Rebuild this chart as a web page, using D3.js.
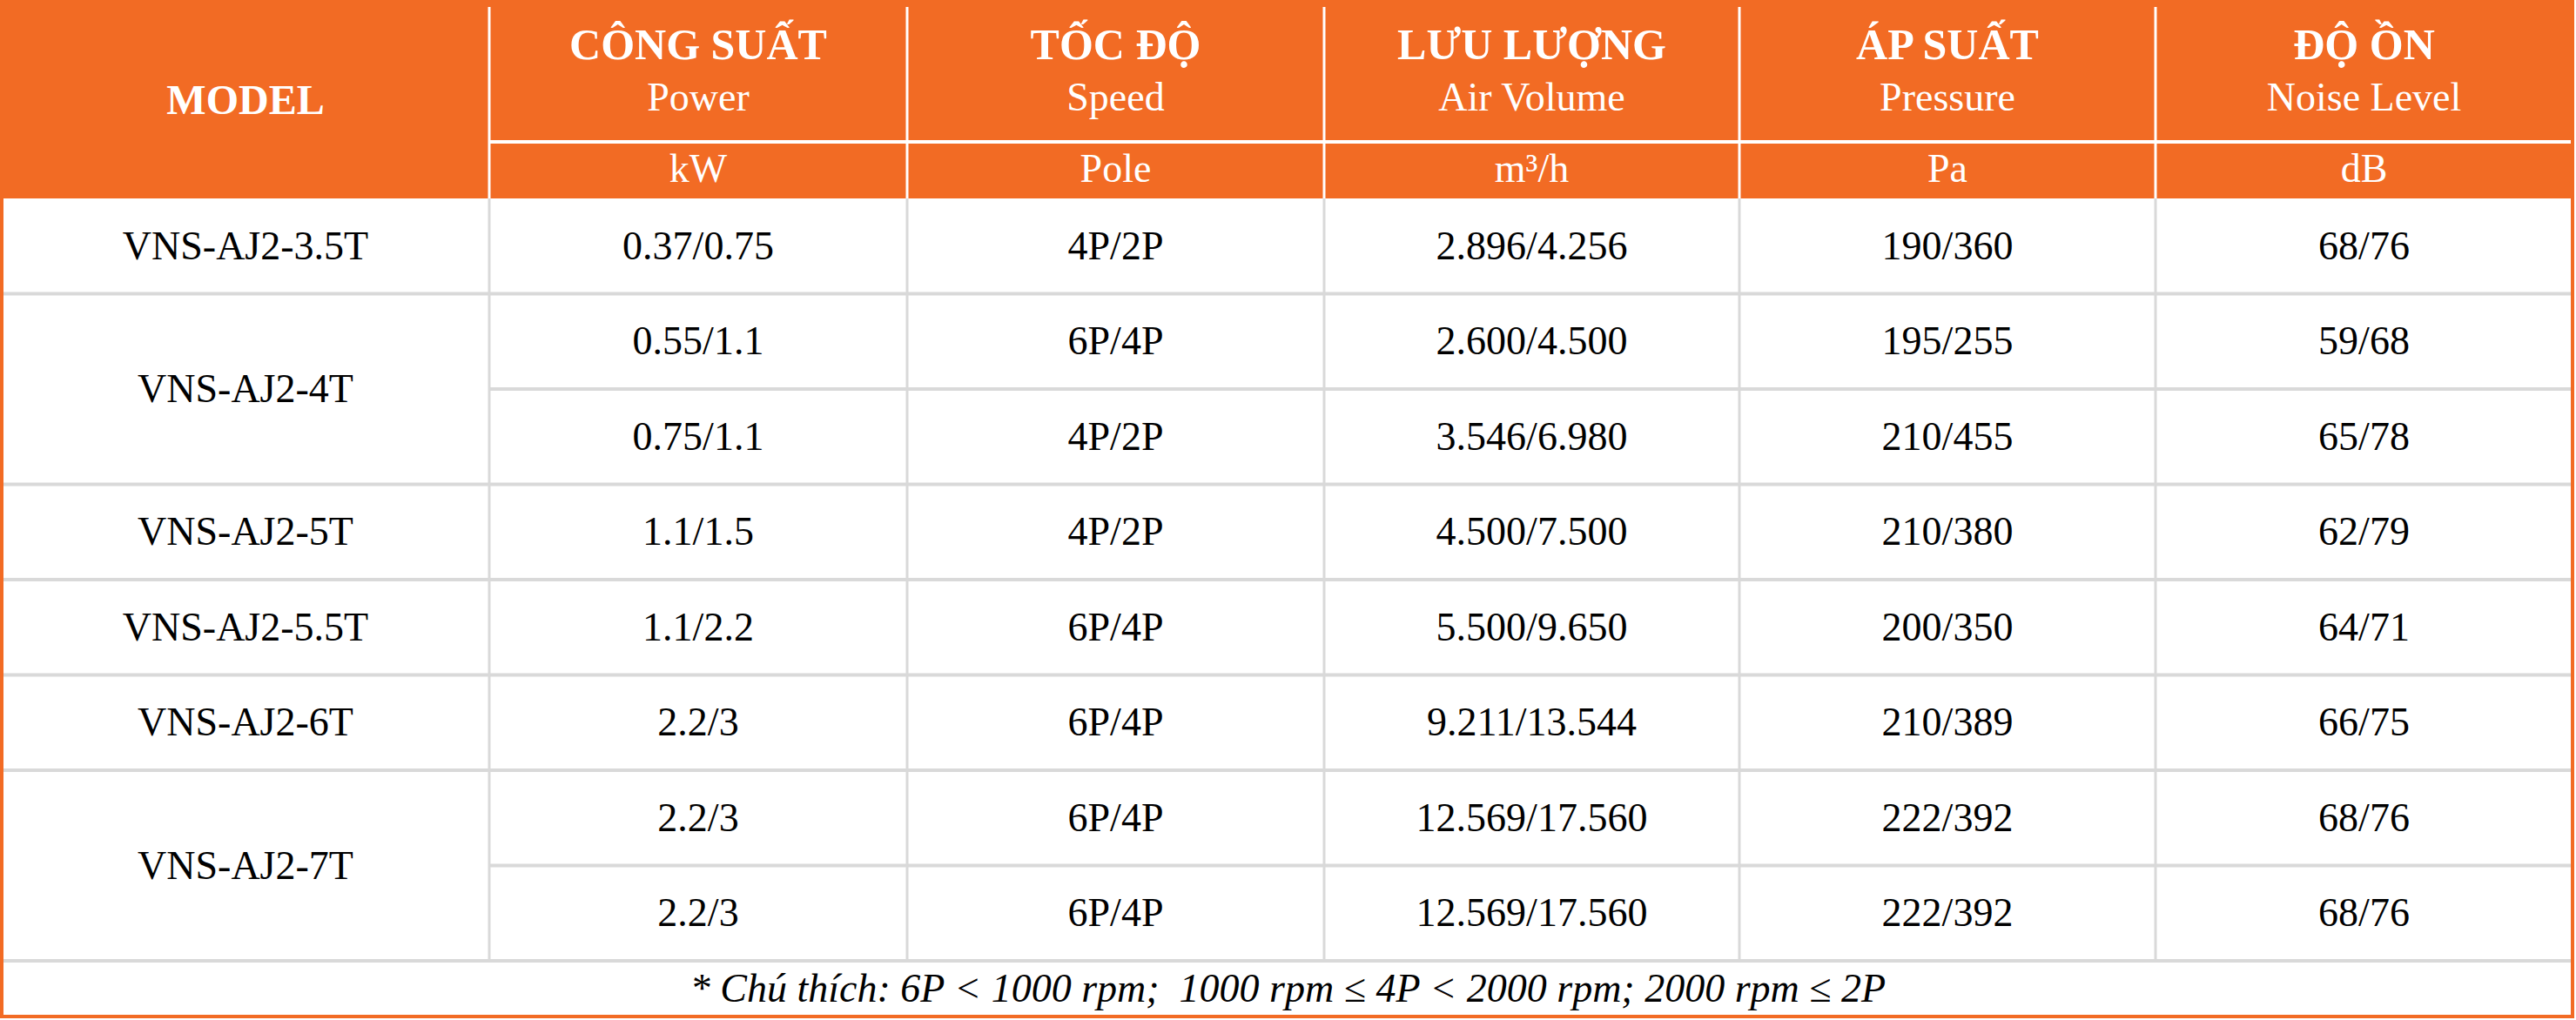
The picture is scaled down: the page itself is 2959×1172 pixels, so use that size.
<!DOCTYPE html>
<html><head><meta charset="utf-8">
<script src="https://cdn.jsdelivr.net/npm/d3@7"></script>
<style>body{margin:0;background:#fff}svg{display:block}text{white-space:pre}</style>
</head><body>
<script>
const headTop = ["MODEL","CÔNG SUẤT","TỐC ĐỘ","LƯU LƯỢNG","ÁP SUẤT","ĐỘ ỒN"];
const headEn = ["","Power","Speed","Air Volume","Pressure","Noise Level"];
const units = ["","kW","Pole","m³/h","Pa","dB"];
const models = [["VNS-AJ2-3.5T",1],["VNS-AJ2-4T",2],["VNS-AJ2-5T",1],["VNS-AJ2-5.5T",1],["VNS-AJ2-6T",1],["VNS-AJ2-7T",2]];
const power = ["0.37/0.75","0.55/1.1","0.75/1.1","1.1/1.5","1.1/2.2","2.2/3","2.2/3","2.2/3"];
const speed = ["4P/2P","6P/4P","4P/2P","4P/2P","6P/4P","6P/4P","6P/4P","6P/4P"];
const airVolume = ["2.896/4.256","2.600/4.500","3.546/6.980","4.500/7.500","5.500/9.650","9.211/13.544","12.569/17.560","12.569/17.560"];
const pressure = ["190/360","195/255","210/455","210/380","200/350","210/389","222/392","222/392"];
const noise = ["68/76","59/68","65/78","62/79","64/71","66/75","68/76","68/76"];
const note = "* Chú thích: 6P < 1000 rpm;  1000 rpm ≤ 4P < 2000 rpm; 2000 rpm ≤ 2P";

const W=2959,H=1172, OR="#F26B24", GR="#d9d9d9", F="'Liberation Serif','Times New Roman',serif";
const svg=d3.select("body").append("svg").attr("width",W).attr("height",H);
const colEdges=[2,562,1042,1521,1998,2476,2955];
const x=i=>colEdges[i];
const hTop=2,hMid=163,hBot=228,rowsBot=1104,noteBot=1168;
const y=d3.scaleLinear().domain([0,8]).range([hBot,rowsBot]);
const cols=[power,speed,airVolume,pressure,noise];
const FS=46;

svg.append("rect").attr("x",x(0)).attr("y",hTop).attr("width",x(6)-x(0)).attr("height",hBot-hTop).attr("fill",OR);
for(let i=1;i<6;i++) svg.append("line").attr("x1",x(i)).attr("x2",x(i)).attr("y1",8).attr("y2",hBot).attr("stroke","#fff").attr("stroke-width",3);
svg.append("line").attr("x1",x(1)).attr("x2",x(6)).attr("y1",hMid).attr("y2",hMid).attr("stroke","#fff").attr("stroke-width",4);
headTop.forEach((t,i)=>{
  const cx=(x(i)+x(i+1))/2;
  if(i===0){svg.append("text").attr("x",cx).attr("y",(hTop+hBot)/2+16).attr("text-anchor","middle").attr("font-family",F).attr("font-weight","bold").attr("font-size",48).attr("fill","#fff").text(t);return;}
  svg.append("text").attr("x",cx).attr("y",68).attr("text-anchor","middle").attr("font-family",F).attr("font-weight","bold").attr("font-size",50).attr("fill","#fff").text(t);
  svg.append("text").attr("x",cx).attr("y",127).attr("text-anchor","middle").attr("font-family",F).attr("font-size",FS).attr("fill","#fff").text(headEn[i]);
  svg.append("text").attr("x",cx).attr("y",209).attr("text-anchor","middle").attr("font-family",F).attr("font-size",FS).attr("fill","#fff").text(units[i]);
});
for(let i=1;i<6;i++) svg.append("line").attr("x1",x(i)).attr("x2",x(i)).attr("y1",hBot).attr("y2",rowsBot).attr("stroke",GR).attr("stroke-width",3);
let r=0; const modelStarts=[];
models.forEach(([m,span])=>{modelStarts.push(r); r+=span;});
for(let k=1;k<=8;k++){
  const fullLine = k===8 || modelStarts.includes(k);
  svg.append("line").attr("x1",fullLine?x(0):x(1)).attr("x2",x(6)).attr("y1",y(k)).attr("y2",y(k)).attr("stroke",GR).attr("stroke-width",4);
}
models.forEach(([m,span],j)=>{
  const s=modelStarts[j];
  svg.append("text").attr("x",(x(0)+x(1))/2).attr("y",(y(s)+y(s+span))/2+15).attr("text-anchor","middle").attr("font-family",F).attr("font-size",FS).attr("fill","#000").text(m);
});
cols.forEach((arr,c)=>{
  svg.selectAll(null).data(arr).enter().append("text")
   .attr("x",(x(c+1)+x(c+2))/2).attr("y",(d,i)=>(y(i)+y(i+1))/2+15)
   .attr("text-anchor","middle").attr("font-family",F).attr("font-size",FS).attr("fill","#000").text(d=>d);
});
svg.append("text").attr("x",W/2).attr("y",(rowsBot+noteBot)/2+15).attr("text-anchor","middle").attr("font-family",F).attr("font-style","italic").attr("font-size",FS).attr("fill","#000").text(note);
svg.append("rect").attr("x",x(0)).attr("y",hTop).attr("width",x(6)-x(0)).attr("height",noteBot-hTop).attr("fill","none").attr("stroke",OR).attr("stroke-width",4);
</script>
</body></html>
